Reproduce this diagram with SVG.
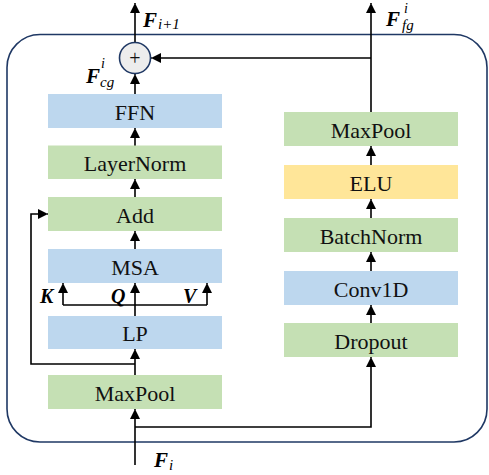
<svg xmlns="http://www.w3.org/2000/svg" width="489" height="475" viewBox="0 0 489 475">
<defs>
<marker id="a" viewBox="0 0 8 10" refX="10" refY="5" markerWidth="8" markerHeight="10" orient="auto" markerUnits="userSpaceOnUse">
<path d="M0,0 L10,5 L0,10 z" fill="#000"/>
</marker>
</defs>
<style>
.g{fill:#c5e0b4}
.b{fill:#bdd7ee}
.y{fill:#ffe699}
.t{font-family:"Liberation Serif","Times New Roman",serif;font-size:22px;fill:#111;text-anchor:middle}
.m{font-family:"Liberation Serif","Times New Roman",serif;font-weight:bold;font-style:italic;fill:#000}
.s{font-family:"Liberation Serif","Times New Roman",serif;font-style:italic;fill:#000}
.c{fill:none;stroke:#000;stroke-width:1.6}
</style>
<rect x="7" y="34.5" width="480" height="407.5" rx="33" ry="33" fill="none" stroke="#1f3864" stroke-width="1.6"/>
<g id="connectors">
<path class="c" d="M135,465 V409" marker-end="url(#a)"/>
<path class="c" d="M135,427 H371 V357" marker-end="url(#a)"/>
<path class="c" d="M135,375 V349" marker-end="url(#a)"/>
<path class="c" d="M135,364 H31 V214 H48" marker-end="url(#a)"/>
<path class="c" d="M135,316 V283" marker-end="url(#a)"/>
<path class="c" d="M63,305 H207"/>
<path class="c" d="M63,305 V283" marker-end="url(#a)"/>
<path class="c" d="M207,305 V283" marker-end="url(#a)"/>
<path class="c" d="M135,249 V231" marker-end="url(#a)"/>
<path class="c" d="M135,197 V179" marker-end="url(#a)"/>
<path class="c" d="M135,146 V128" marker-end="url(#a)"/>
<path class="c" d="M135,94 V74" marker-end="url(#a)"/>
<path class="c" d="M135,42.5 V3" marker-end="url(#a)"/>
<path class="c" d="M371,323 V305" marker-end="url(#a)"/>
<path class="c" d="M371,271 V252" marker-end="url(#a)"/>
<path class="c" d="M371,218 V199" marker-end="url(#a)"/>
<path class="c" d="M371,165 V146" marker-end="url(#a)"/>
<path class="c" d="M371,112 V3" marker-end="url(#a)"/>
<path class="c" d="M371,58 H151" marker-end="url(#a)"/>
</g>
<g id="add-circle">
<circle cx="135" cy="58" r="15.5" fill="#ededed" stroke="#1f3864" stroke-width="1.6"/>
<text x="135" y="65" class="t" style="font-size:20px">+</text>
</g>
<g id="ffn"><rect class="b" x="48" y="94" width="174" height="34"/><text class="t" x="135" y="119.5">FFN</text></g>
<g id="layernorm"><rect class="g" x="48" y="145.5" width="174" height="33.5"/><text class="t" x="135" y="171">LayerNorm</text></g>
<g id="add"><rect class="g" x="48" y="197" width="174" height="34"/><text class="t" x="135" y="222.5">Add</text></g>
<g id="msa"><rect class="b" x="48" y="249" width="174" height="34"/><text class="t" x="135" y="274.5">MSA</text></g>
<g id="lp"><rect class="b" x="48" y="316" width="174" height="33"/><text class="t" x="135" y="341">LP</text></g>
<g id="maxpool-left"><rect class="g" x="48" y="375" width="174" height="34"/><text class="t" x="135" y="400.5">MaxPool</text></g>
<g id="maxpool-right"><rect class="g" x="284" y="112" width="174" height="34"/><text class="t" x="371" y="137.5">MaxPool</text></g>
<g id="elu"><rect class="y" x="284" y="165" width="174" height="34"/><text class="t" x="371" y="190.5">ELU</text></g>
<g id="batchnorm"><rect class="g" x="284" y="218" width="174" height="34"/><text class="t" x="371" y="243.5">BatchNorm</text></g>
<g id="conv1d"><rect class="b" x="284" y="271" width="174" height="34"/><text class="t" x="371" y="296.5">Conv1D</text></g>
<g id="dropout"><rect class="g" x="284" y="323" width="174" height="34"/><text class="t" x="371" y="348.5">Dropout</text></g>
<g id="labels">
<text class="m" x="40" y="303" font-size="20">K</text>
<text class="m" x="111" y="303" font-size="20">Q</text>
<text class="m" x="183" y="303" font-size="20">V</text>
<text class="m" x="143" y="27" font-size="21">F<tspan class="s" font-weight="normal" font-size="15" dx="1" dy="2">i+1</tspan></text>
<text class="m" x="86" y="83" font-size="21">F</text>
<text class="s" x="101" y="68" font-size="14">i</text>
<text class="s" x="100" y="87" font-size="15">cg</text>
<text class="m" x="386" y="26" font-size="21">F</text>
<text class="s" x="404" y="13" font-size="14">i</text>
<text class="s" x="402" y="30" font-size="15">fg</text>
<text class="m" x="154" y="467" font-size="21">F<tspan class="s" font-weight="normal" font-size="15" dx="1" dy="3">i</tspan></text>
</g>
</svg>
